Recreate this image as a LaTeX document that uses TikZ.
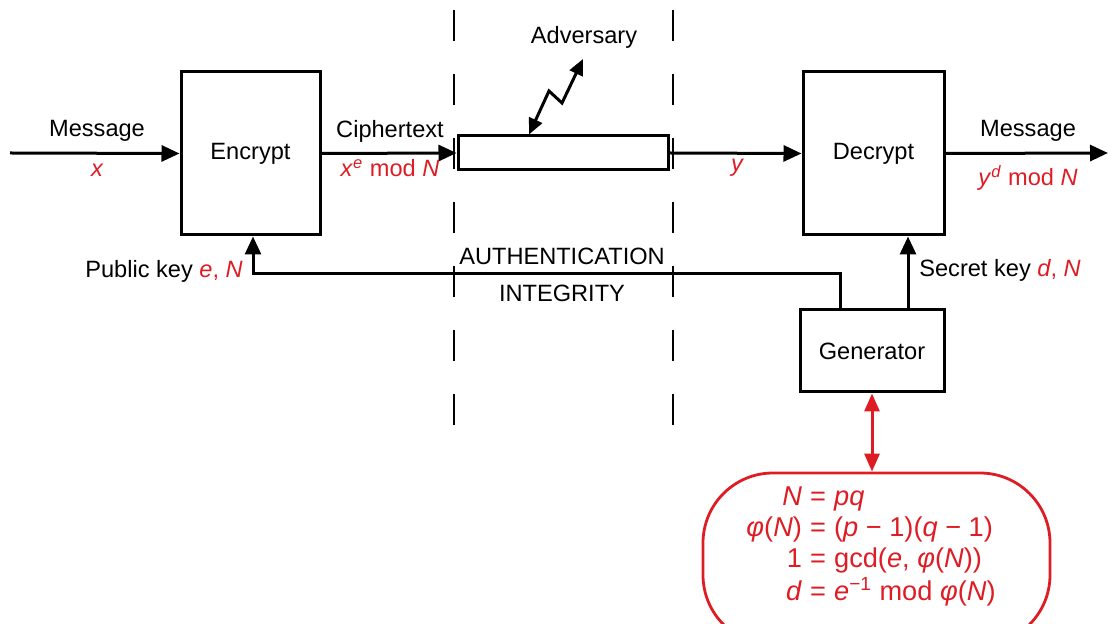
\documentclass[tikz,border=0pt]{standalone}
\usepackage{fontspec}
\setmainfont{Liberation Sans}
\usetikzlibrary{arrows.meta,calc}
\definecolor{keyred}{RGB}{222,28,36}
\begin{document}
\begin{tikzpicture}[x=0.5pt,y=-0.5pt,
  font=\fontsize{11.8}{14}\selectfont,
  block/.style={draw,line width=1.5pt,inner sep=0pt},
  flow/.style={line width=1.5pt,-{Triangle[length=9pt,width=8pt]}},
  lbl/.style={inner sep=0pt},
  var/.style={text=keyred,inner sep=0pt},
  zone/.style={line width=0.7pt,dash pattern=on 15.5pt off 16.5pt}]
\useasboundingbox (0,0) rectangle (1108,624);

% trust-zone boundaries around the channel
\draw[zone] (454,10) -- (454,426);
\draw[zone] (673,10) -- (673,426);

% blocks
\node[block,minimum width=69.5pt,minimum height=81.5pt] (enc) at (250.5,153.5) {Encrypt};
\node[block,minimum width=70.5pt,minimum height=81.5pt] (dec) at (873.5,153.5) {Decrypt};
\node[block,minimum width=72pt,minimum height=41pt] (gen) at (872,351) {Generator};
\node[block,minimum width=105pt,minimum height=17pt] (chan) at (563,153) {};
\node[draw=keyred,line width=1.4pt,rounded corners=35pt,
      minimum width=173.5pt,minimum height=86pt] (rsa) at (876.5,559) {};

% key generation relations
\node[text=keyred,inner sep=0pt,font=\fontsize{13.6}{15.5}\selectfont] (eqs) at (871,547) {%
  \begin{tabular}{@{}r@{\hspace{0.3em}=\hspace{0.3em}}l@{}}
  \textit{N} & \textit{pq}\\
  \textit{φ}(\textit{N}) & (\textit{p} − 1)(\textit{q} − 1)\\
  1 & gcd(\textit{e}, \textit{φ}(\textit{N}))\\
  \textit{d} & \textit{e}\textsuperscript{−1} mod \textit{φ}(\textit{N})
  \end{tabular}};

% free ends and bends
\coordinate (src) at (10,153);
\coordinate (dst) at (1108,153);
\coordinate (pk) at (253,274);
\coordinate (z1) at (549,91);
\coordinate (z2) at (562,103);
\coordinate (adv) at (583,59);

% data path
\draw[flow] (src) -- (enc.west);
\draw[flow] (enc.east) -- (chan.west);
\draw[flow] (chan.east) -- (dec.west);
\draw[flow] (dec.east) -- (dst);

% keys
\draw[flow] ([xshift=18pt]gen.north) -- ([xshift=18pt]gen.north |- dec.south);
\draw[flow] ([xshift=-16pt]gen.north) |- (pk) -- (pk |- enc.south);

% adversary tapping the channel
\draw[line width=1.5pt,{Triangle[length=8pt,width=7pt]}-{Triangle[length=8pt,width=7pt]}]
  ([xshift=-17pt]chan.north) -- (z1) -- (z2) -- (adv);

% generator <-> parameters
\draw[keyred,line width=1.5pt,{Triangle[length=9pt,width=7.5pt]}-{Triangle[length=9pt,width=7.5pt]}]
  (gen.south) -- (gen.south |- rsa.north);

% labels
\node[lbl] (lmin) at (97,131) {Message};
\node[var] (lx) at (97,170) {\itshape x};
\node[lbl] (lct) at (390,131) {Ciphertext};
\node[var,anchor=base] (lxe) at (390,177) {\textit{x}\textsuperscript{\itshape e} mod \textit{N}};
\node[var] (ly) at (737,168) {\itshape y};
\node[lbl] (lmout) at (1028,131) {Message};
\node[var,anchor=base] (lyd) at (1028,186) {\textit{y}\textsuperscript{\itshape d} mod \textit{N}};
\node[lbl] (lpk) at (164,271) {Public key \textcolor{keyred}{\textit{e}, \textit{N}}};
\node[lbl] (lsk) at (1000,270) {Secret key \textcolor{keyred}{\textit{d}, \textit{N}}};
\node[lbl] (lauth) at (562,256) {AUTHENTICATION};
\node[lbl] (lint) at (562,293) {INTEGRITY};
\node[lbl] (ladv) at (584,37) {Adversary};
\end{tikzpicture}
\end{document}
